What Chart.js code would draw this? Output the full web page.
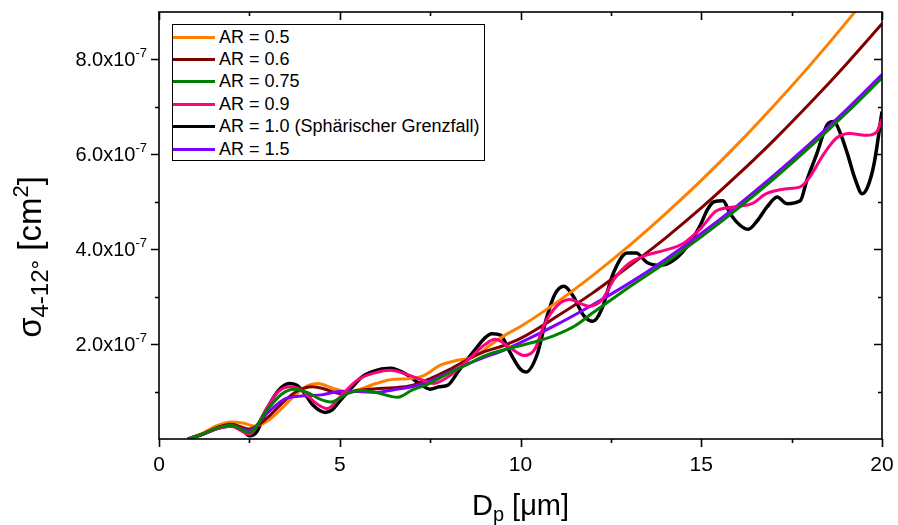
<!DOCTYPE html>
<html>
<head>
<meta charset="utf-8">
<script src="https://cdn.jsdelivr.net/npm/chart.js@4.4.1/dist/chart.umd.min.js"></script>
<style>
  html, body { margin: 0; padding: 0; background: #fff; }
  #wrap { position: relative; width: 898px; height: 525px; }
  #legend {
    position: absolute; left: 172px; top: 24px; width: 313px; height: 137px;
    box-sizing: border-box; border: 1px solid #000; background: #fff;
    font-family: "Liberation Sans", Arial, sans-serif; font-size: 18px; color: #000;
    padding-top: 1px;
  }
  .row { display: flex; align-items: center; height: 22.4px; white-space: nowrap; }
  .swatch { width: 42px; height: 3px; margin-left: 0px; margin-right: 4px; }
</style>
</head>
<body>
<div id="wrap">
  <canvas id="c" width="898" height="525"></canvas>
  <div id="legend"></div>
</div>
<script>
// Werte in Einheiten von 1e-7 cm^2, Dp in µm
const labels = ['AR = 0.5', 'AR = 0.6', 'AR = 0.75', 'AR = 0.9', 'AR = 1.0 (Sphärischer Grenzfall)', 'AR = 1.5'];
const colors = ['#FF8000', '#800000', '#008000', '#FF0080', '#000000', '#8000FF'];

const ar05 = [[0.8,0],[1.2,0.12],[1.6,0.28],[2.0,0.36],[2.35,0.33],[2.65,0.27],[3.0,0.38],[3.4,0.65],[3.8,0.95],[4.1,1.12],[4.4,1.17],[4.8,1.07],[5.2,1.0],[5.6,1.06],[6.0,1.17],[6.5,1.26],[6.9,1.27],[7.3,1.33],[7.8,1.56],[8.2,1.65],[8.7,1.73],[9.2,2.0],[9.6,2.2],[10.0,2.37],[11.0,2.88],[12.0,3.45],[13.0,4.07],[14.0,4.74],[15.0,5.45],[16.0,6.21],[17.0,7.02],[18.0,7.87],[19.0,8.77],[20.0,9.72]];
const ar06 = [[0.8,0],[1.2,0.1],[1.6,0.24],[2.0,0.31],[2.5,0.21],[3.0,0.45],[3.4,0.75],[3.8,1.0],[4.25,1.1],[4.6,1.05],[5.0,0.96],[5.5,1.02],[6.0,1.06],[6.5,1.08],[7.0,1.13],[7.5,1.27],[8.0,1.45],[8.5,1.66],[9.0,1.84],[9.5,1.96],[10.0,2.12],[11.0,2.58],[12.0,3.08],[13.0,3.64],[14.0,4.23],[15.0,4.87],[16.0,5.56],[17.0,6.29],[18.0,7.07],[19.0,7.89],[20.0,8.75]];
const ar075 = [[0.8,0],[1.2,0.1],[1.6,0.23],[2.0,0.29],[2.5,0.14],[3.0,0.62],[3.4,0.95],[3.75,1.05],[4.1,0.98],[4.45,0.84],[4.75,0.78],[5.2,0.95],[5.6,1.02],[6.0,0.98],[6.6,0.88],[7.0,1.03],[7.5,1.18],[8.0,1.38],[8.5,1.56],[9.0,1.75],[9.5,1.87],[10.0,1.97],[10.5,2.07],[11.0,2.2],[11.5,2.38],[12.0,2.66],[12.5,2.93],[13.0,3.2],[14.0,3.71],[15.0,4.26],[16.0,4.85],[17.0,5.48],[18.0,6.15],[19.0,6.86],[20.0,7.61]];
const ar09 = [[0.8,0],[1.2,0.1],[1.6,0.22],[2.0,0.27],[2.5,0.1],[3.0,0.68],[3.3,1.0],[3.65,1.1],[4.0,1.0],[4.3,0.78],[4.65,0.64],[5.0,0.88],[5.5,1.25],[6.0,1.4],[6.4,1.45],[6.9,1.35],[7.3,1.24],[7.6,1.17],[8.05,1.34],[8.5,1.63],[9.0,1.98],[9.3,2.1],[9.7,1.93],[10.1,1.76],[10.4,1.9],[10.65,2.4],[11.0,2.8],[11.35,2.94],[11.9,2.8],[12.25,2.93],[12.6,3.38],[13.0,3.7],[13.5,3.88],[14.0,3.98],[14.5,4.12],[15.0,4.45],[15.4,4.8],[15.9,4.89],[16.4,4.96],[16.8,5.17],[17.3,5.27],[17.75,5.32],[18.0,5.52],[18.4,6.02],[18.75,6.35],[19.1,6.44],[19.6,6.4],[19.85,6.47],[20.0,6.75]];
const ar10 = [[0.8,0],[1.2,0.1],[1.6,0.22],[2.0,0.28],[2.3,0.2],[2.5,0.07],[2.7,0.15],[3.0,0.65],[3.3,1.02],[3.6,1.17],[3.8,1.14],[4.0,0.99],[4.25,0.72],[4.6,0.56],[4.8,0.62],[5.0,0.8],[5.35,1.1],[5.6,1.3],[5.9,1.42],[6.4,1.49],[6.85,1.36],[7.2,1.17],[7.5,1.05],[7.75,1.1],[8.0,1.14],[8.3,1.45],[8.7,1.84],[9.0,2.12],[9.2,2.22],[9.45,2.19],[9.7,1.84],[10.0,1.47],[10.15,1.41],[10.45,1.76],[10.72,2.55],[10.95,3.05],[11.2,3.22],[11.45,3.02],[11.75,2.6],[12.0,2.48],[12.25,2.74],[12.57,3.5],[12.95,3.92],[13.2,3.92],[13.5,3.72],[13.86,3.66],[14.2,3.75],[14.6,4.05],[14.97,4.5],[15.16,4.82],[15.35,5.0],[15.6,5.02],[15.8,4.75],[16.08,4.5],[16.3,4.42],[16.55,4.6],[16.82,4.89],[17.1,5.1],[17.37,4.96],[17.74,5.02],[17.92,5.45],[18.2,6.02],[18.48,6.62],[18.67,6.69],[18.85,6.44],[19.04,6.02],[19.27,5.45],[19.45,5.17],[19.6,5.31],[19.78,5.8],[20.0,6.9]];
const ar15 = [[0.8,0],[1.2,0.1],[1.6,0.22],[2.0,0.27],[2.5,0.18],[3.0,0.55],[3.5,0.85],[4.0,0.91],[4.5,0.93],[5.0,1.0],[5.5,1.0],[6.0,0.98],[6.5,1.04],[7.0,1.1],[7.5,1.22],[8.0,1.4],[8.5,1.57],[9.0,1.72],[9.5,1.86],[10.0,2.03],[11.0,2.41],[12.0,2.83],[13.0,3.28],[14.0,3.78],[15.0,4.33],[16.0,4.92],[17.0,5.55],[18.0,6.22],[19.0,6.93],[20.0,7.68]];

const xMajor = [0, 5, 10, 15, 20];
const xMinor = [2.5, 7.5, 12.5, 17.5];
const yMajor = [2, 4, 6, 8];
const yMinor = [1, 3, 5, 7];

const FONT = '"Liberation Sans", Arial, sans-serif';
const series = [ar05, ar06, ar075, ar09, ar10, ar15];
const drawOrder = [5, 4, 1, 2, 6, 3]; // kleiner = weiter oben

// Legende
const legendDiv = document.getElementById('legend');
labels.forEach(function(lab, i) {
    legendDiv.innerHTML += '<div class="row"><div class="swatch" style="background:' + colors[i] + '"></div><span>' + lab + '</span></div>';
});

// Text mit Hoch-/Tiefstellung
function drawRich(ctx, parts, x, y) {
    let w = 0;
    parts.forEach(function(p) { ctx.font = p.size + 'px ' + FONT; w += ctx.measureText(p.t).width; });
    let cx = x - w / 2;
    parts.forEach(function(p) {
        ctx.font = p.size + 'px ' + FONT;
        ctx.fillText(p.t, cx, y + (p.dy || 0));
        cx += ctx.measureText(p.t).width;
    });
}

const framePlugin = {
    id: 'frame',
    afterDraw(chart) {
        const ctx = chart.ctx;
        const a = chart.chartArea;
        const xs = chart.scales.x, ys = chart.scales.y;
        ctx.save();
        ctx.strokeStyle = '#000';
        ctx.lineWidth = 1.6;
        ctx.strokeRect(a.left, a.top, a.right - a.left, a.bottom - a.top);
        ctx.beginPath();
        xMajor.concat(xMinor).forEach(function(v) {
            const len = xMajor.includes(v) ? 8 : 4;
            const px = Math.round(xs.getPixelForValue(v)) + 0.5;
            ctx.moveTo(px, a.bottom); ctx.lineTo(px, a.bottom + len);
            ctx.moveTo(px, a.top); ctx.lineTo(px, a.top + len);
        });
        yMajor.concat(yMinor).forEach(function(v) {
            const len = yMajor.includes(v) ? 8 : 4;
            const py = Math.round(ys.getPixelForValue(v)) + 0.5;
            ctx.moveTo(a.left, py); ctx.lineTo(a.left - len, py);
            ctx.moveTo(a.right, py); ctx.lineTo(a.right - len, py);
        });
        ctx.stroke();

        // y-Beschriftung
        ctx.fillStyle = '#000';
        ctx.textBaseline = 'alphabetic';
        ctx.textAlign = 'left';
        yMajor.forEach(function(v) {
            const py = ys.getPixelForValue(v);
            ctx.font = '20px ' + FONT;
            const main = v.toFixed(1) + 'x10';
            const wm = ctx.measureText(main).width;
            ctx.font = '13px ' + FONT;
            const ws = ctx.measureText('-7').width;
            const x0 = a.left - 12 - wm - ws;
            ctx.font = '20px ' + FONT;
            ctx.fillText(main, x0, py + 7);
            ctx.font = '13px ' + FONT;
            ctx.fillText('-7', x0 + wm, py - 2);
        });

        // Achsentitel
        drawRich(ctx, [
            {t: 'D', size: 29},
            {t: 'p', size: 20, dy: 6},
            {t: ' [\u03bcm]', size: 29}
        ], (a.left + a.right) / 2, 515);

        ctx.translate(41, 257);
        ctx.rotate(-Math.PI / 2);
        drawRich(ctx, [
            {t: '\u03c3', size: 33},
            {t: '4-12\u00b0', size: 24, dy: 7},
            {t: ' [cm', size: 33},
            {t: '2', size: 22, dy: -13},
            {t: ']', size: 33}
        ], 0, 0);
        ctx.restore();
    }
};

const datasets = series.map(function(s, i) {
    return {
        label: labels[i],
        data: s.map(function(p) { return {x: p[0], y: p[1]}; }),
        borderColor: colors[i],
        borderWidth: i === 4 ? 3.5 : 3,
        pointRadius: 0,
        cubicInterpolationMode: 'monotone',
        fill: false,
        clip: 0,
        order: drawOrder[i]
    };
});

const chart = new Chart(document.getElementById('c'), {
    type: 'line',
    data: { datasets: datasets },
    options: {
        responsive: false,
        animation: false,
        devicePixelRatio: 1,
        layout: { padding: { top: 12, right: 16, left: 0, bottom: 0 } },
        plugins: { legend: { display: false }, tooltip: { enabled: false } },
        scales: {
            x: {
                type: 'linear', min: 0, max: 20,
                grid: { display: false, drawTicks: false },
                border: { display: false },
                ticks: { stepSize: 5, color: '#000', padding: 14, maxRotation: 0, font: { size: 21, family: FONT } },
                afterFit: function(s) { s.height = 86; s.paddingLeft = 0; s.paddingRight = 0; }
            },
            y: {
                type: 'linear', min: 0, max: 9,
                grid: { display: false, drawTicks: false },
                border: { display: false },
                ticks: { display: false },
                afterFit: function(s) { s.width = 159; }
            }
        }
    },
    plugins: [framePlugin]
});
</script>
</body>
</html>
